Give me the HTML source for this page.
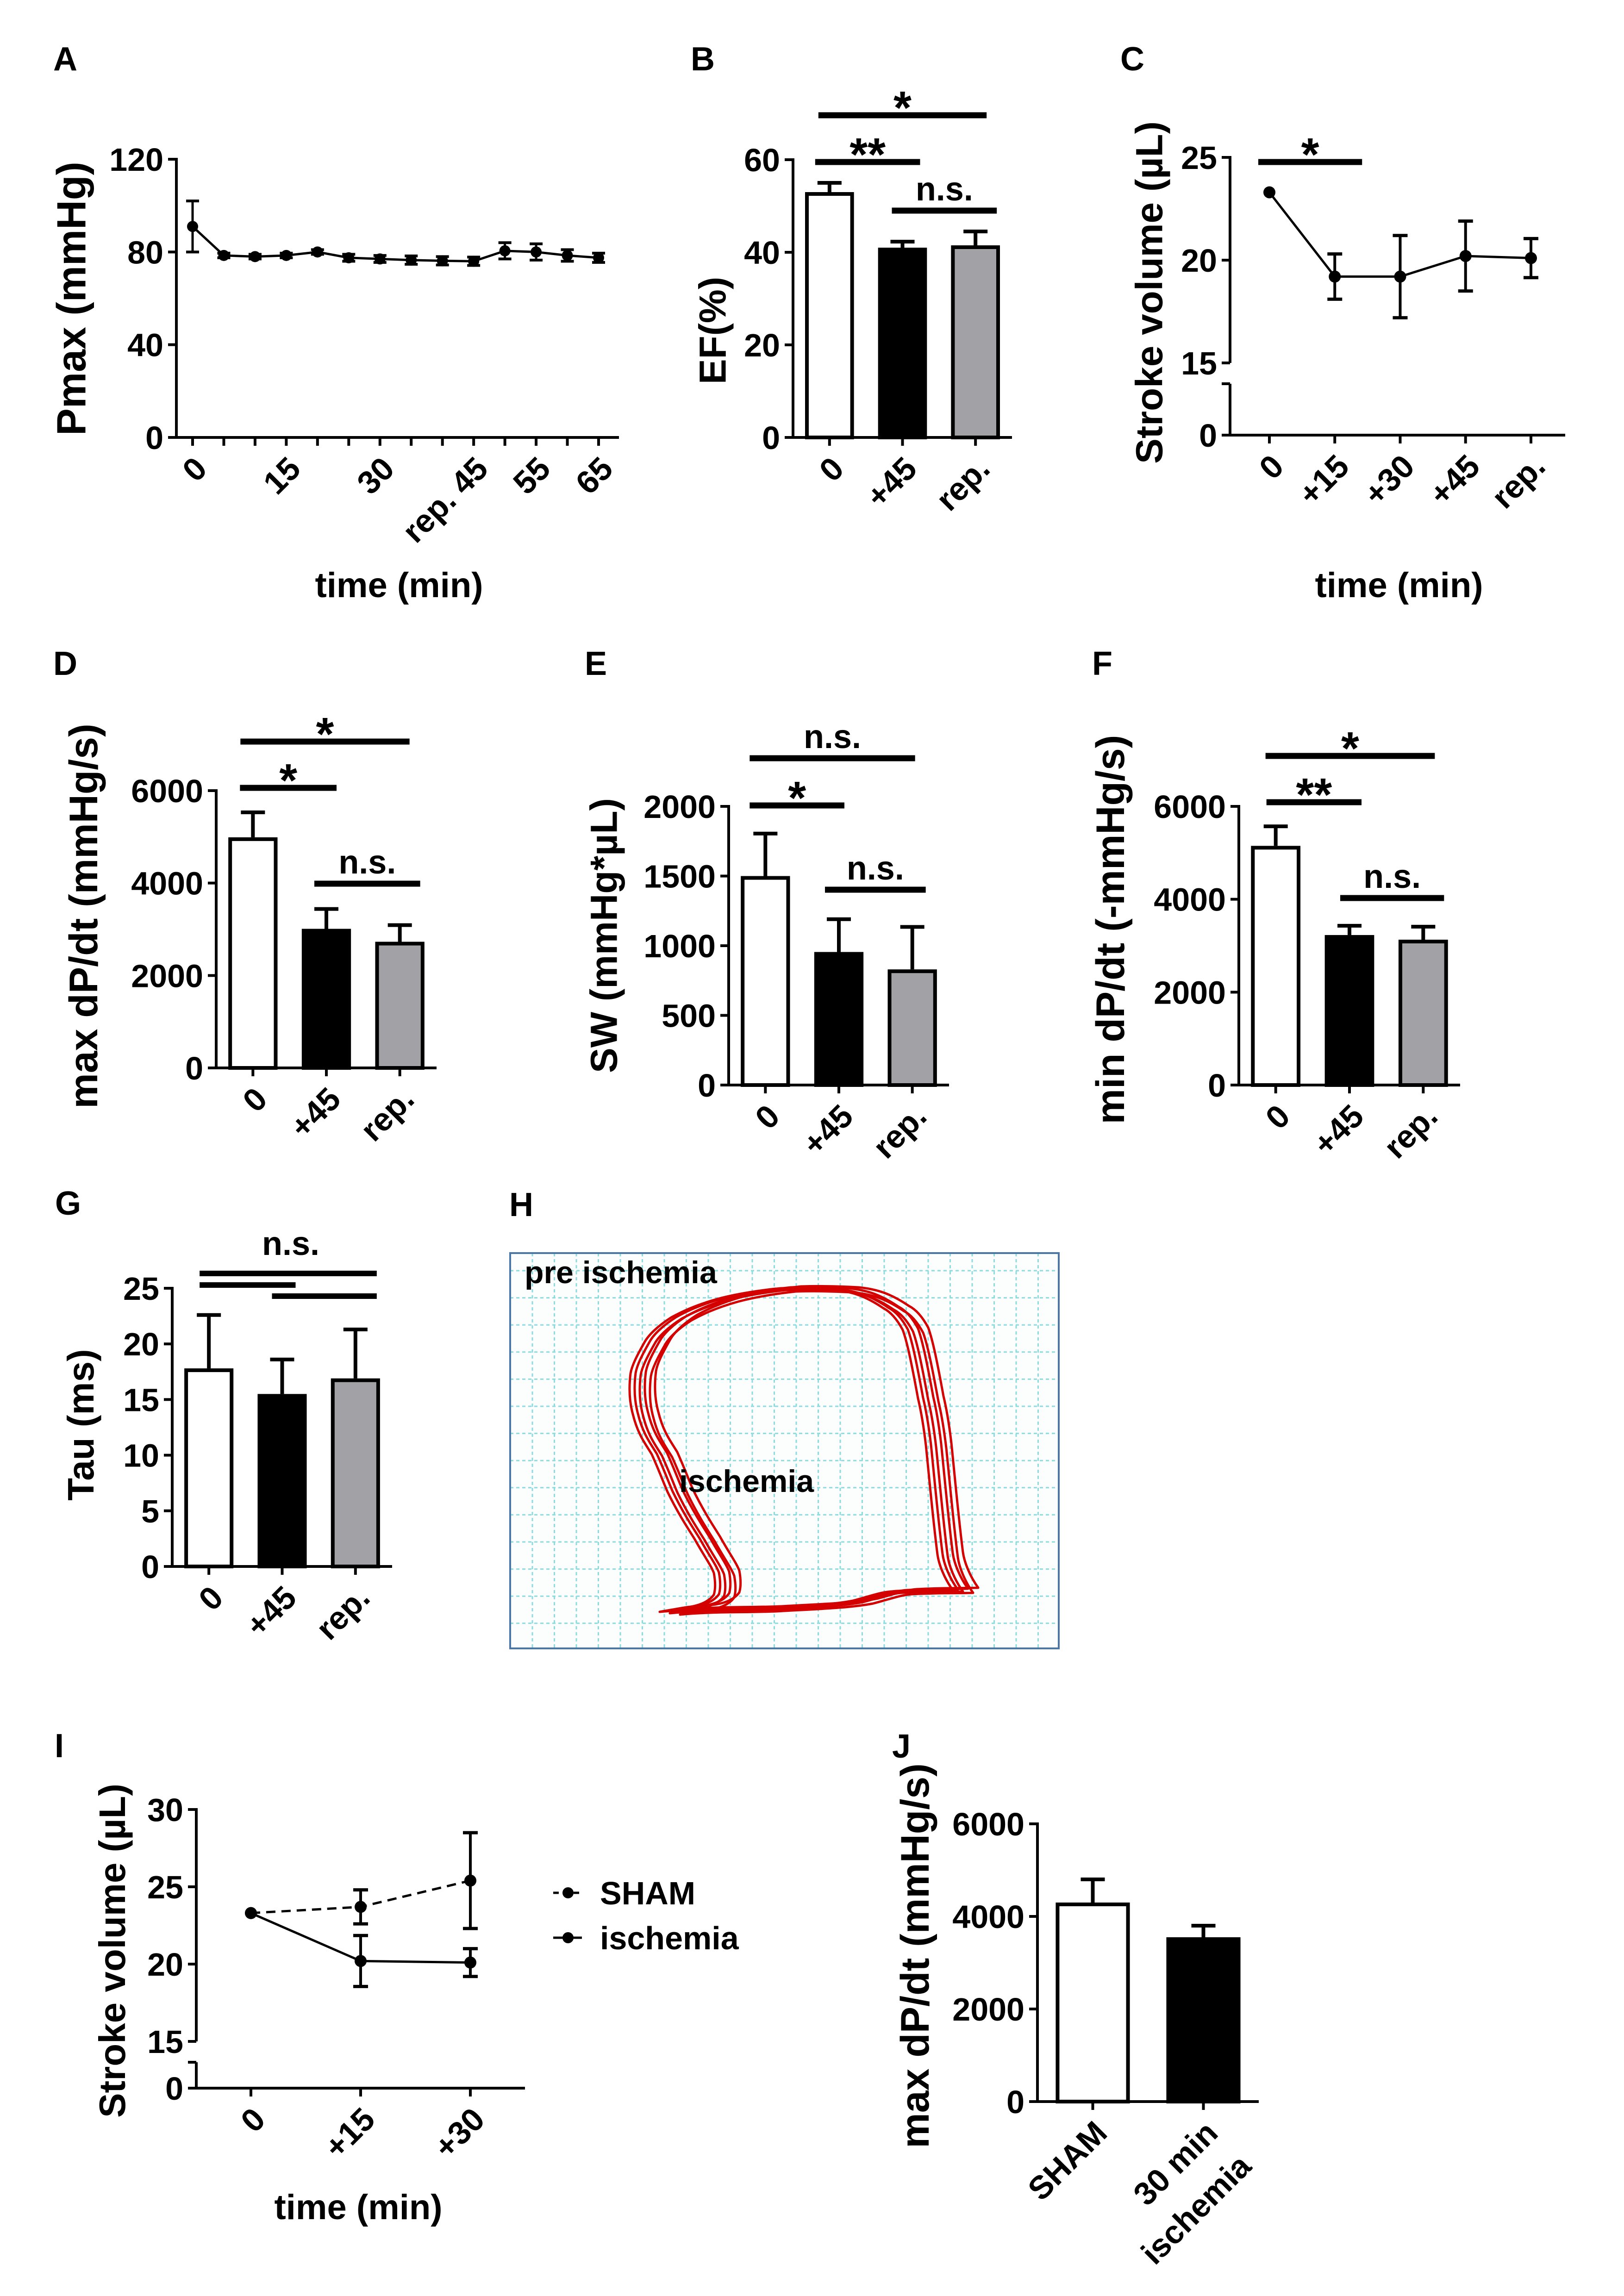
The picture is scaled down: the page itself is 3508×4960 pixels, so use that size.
<!DOCTYPE html>
<html>
<head>
<meta charset="utf-8">
<style>
  html,body{margin:0;padding:0;background:#fff;}
  svg{display:block;}
  text{font-family:"Liberation Sans",Arial,sans-serif;font-weight:bold;fill:#000;}
</style>
</head>
<body>
<svg id="fig" xmlns="http://www.w3.org/2000/svg" width="3508" height="4960" viewBox="0 0 3508 4960">
  <rect x="0" y="0" width="3508" height="4960" fill="#fff"/>
</svg>
<script>
// ===== Panel A data =====
const aMinutes = [0,5,10,15,20,25,30,35,40,45,50,55,60,65];
const aPmax = [91,78.5,78,78.5,80,77.5,77,76.5,76.2,76,80.5,80,78.5,77.5];
const aErr = [11,1,1,1,1,1.5,1.5,1.8,1.8,1.8,3.5,3.5,2.5,2];
const aTickMinutes = [0,15,30,45,55,65];
const aTickLabels = ['0','15','30','rep. 45','55','65'];
const aYTicks = [0,40,80,120];
// ===== Panel B data =====
const bCats = ['0','+45','rep.'];
const bVals = [53,41,41.5];
const bErrs = [2,1.3,3];
const bYTicks = [0,20,40,60];
// ===== Panel C data =====
const cCats = ['0','+15','+30','+45','rep.'];
const cVals = [23.3,19.2,19.2,20.2,20.1];
const cErrs = [0,1.1,2.0,1.7,0.95];
const cYTicks = [15,20,25];
// ===== Panel D data =====
const dCats = ['0','+45','rep.'];
const dVals = [4990,3010,2730];
const dErrs = [540,430,360];
const dYTicks = [0,2000,4000,6000];
// ===== Panel E data =====
const eCats = ['0','+45','rep.'];
const eVals = [1500,955,830];
const eErrs = [305,235,305];
const eYTicks = [0,500,1000,1500,2000];
// ===== Panel F data =====
const fCats = ['0','+45','rep.'];
const fVals = [5150,3230,3130];
const fErrs = [420,200,280];
const fYTicks = [0,2000,4000,6000];
// ===== Panel G data =====
const gCats = ['0','+45','rep.'];
const gVals = [17.8,15.5,16.9];
const gErrs = [4.8,3.1,4.4];
const gYTicks = [0,5,10,15,20,25];
// ===== Panel I data =====
const iCats = ['0','+15','+30'];
const iSham = [23.3,23.7,25.4];
const iShamErr = [0,1.1,3.1];
const iIsch = [23.3,20.2,20.1];
const iIschErr = [0,1.65,0.9];
const iYTicks = [15,20,25,30];
// ===== Panel J data =====
const jCats = [['SHAM'],['30 min','ischemia']];
const jVals = [4300,3550];
const jErrs = [500,250];
const jYTicks = [0,2000,4000,6000];

const NS = 'http://www.w3.org/2000/svg';
const svg = document.getElementById('fig');
function mk(tag, attrs, parent){
  const e = document.createElementNS(NS, tag);
  for (const k in attrs) e.setAttribute(k, attrs[k]);
  (parent || svg).appendChild(e);
  return e;
}
function group(name){
  const g = mk('g', {});
  
  
  return g;
}
function line(g, x1, y1, x2, y2, w, name, dash){
  const e = mk('line', {x1:x1, y1:y1, x2:x2, y2:y2, stroke:'#000', 'stroke-width':w}, g);
  if (dash) e.setAttribute('stroke-dasharray', dash);
  
  
  return e;
}
function text(g, x, y, s, size, anchor, rot, name){
  const e = mk('text', {x:x, y:y, 'font-size':size, 'text-anchor':anchor||'start'}, g);
  if (rot) e.setAttribute('transform', 'rotate(' + rot + ' ' + x + ' ' + y + ')');
  e.textContent = s;
  
  
  return e;
}
function circle(g, cx, cy, r, name){
  const e = mk('circle', {cx:cx, cy:cy, r:r, fill:'#000'}, g);
  
  
  return e;
}
function lin(v, v0, v1, p0, p1){ return p0 + (v - v0) * (p1 - p0) / (v1 - v0); }

const AXW = 6, TICK = 18, TFS = 70;

function panelLetter(ch, x, y){
  const g = group('panel-label-' + ch.toLowerCase());
  text(g, x, y, ch, 72, 'start', 0, 'panel-letter');
}
function yTitle(g, s, cx, cy, size){
  text(g, cx + size * 0.36, cy, s, size, 'middle', -90, 'y-axis-title');
}
function xCatLabel(g, tx, axisY, s){
  text(g, tx + 35, axisY + 72, s, TFS, 'end', -45, 'x-tick-label');
}
function sig(g, x1, x2, y, lbl){
  line(g, x1, y, x2, y, 13, 'significance-bar');
  if (lbl === 'n.s.') {
    text(g, (x1 + x2) / 2, y - 22, lbl, 72, 'middle', 0, 'significance-label');
  } else {
    text(g, (x1 + x2) / 2, y + 18, lbl, 100, 'middle', 0, 'significance-label');
  }
}

// Generic bar chart
function barPanel(name, L, cats, vals, errs, fills, yTicks, vmax, sigs){
  const g = group(name);
  const band = (L.xEnd - L.x0) / cats.length;
  const bw = band * 0.67;
  const ys = v => lin(v, 0, vmax, L.y0, L.yTop);
  line(g, L.x0, ys(vmax) - 3, L.x0, L.y0 + 3, AXW, 'y-axis');
  line(g, L.x0 - TICK, L.y0, L.xEnd, L.y0, AXW, 'x-axis');
  yTicks.forEach(t => {
    line(g, L.x0 - TICK, ys(t), L.x0, ys(t), AXW, 'y-tick');
    text(g, L.x0 - 28, ys(t) + 25, String(t), TFS, 'end', 0, 'y-tick-label');
  });
  const cx = i => L.x0 + band * (i + 0.5);
  cats.forEach((c, i) => {
    const x = cx(i);
    const top = ys(vals[i]);
    const eTop = ys(vals[i] + errs[i]);
    line(g, x, top, x, eTop, 8, 'error-bar');
    line(g, x - 26, eTop, x + 26, eTop, 8, 'error-cap');
    const r = mk('rect', {x:x - bw/2 + 4, y:top + 4, width:bw - 8, height:L.y0 - top - 4, fill:fills[i], stroke:'#000', 'stroke-width':8}, g);
    
    
    line(g, x, L.y0, x, L.y0 + TICK, AXW, 'x-tick');
    if (Array.isArray(c)) {
      c.forEach((part, k) => {
        text(g, x + 35 + k * 72, L.y0 + 72 + k * 72, part, TFS, 'end', -45, 'x-tick-label');
      });
    } else {
      xCatLabel(g, x, L.y0, c);
    }
  });
  (sigs || []).forEach(s => sig(g, cx(s[0]) + s[3], cx(s[1]) + s[4], s[2], s[5]));
  return g;
}

const FILLS = ['#ffffff', '#000000', '#a1a1a6'];

// ===== Panel A =====
(function(){
  panelLetter('A', 115, 152);
  const g = group('panel-a-pmax');
  const L = {x0:381, xEnd:1337, yTop:344, y0:945, xFirst:416, xLast:1293};
  const ys = v => lin(v, 0, 120, L.y0, L.yTop);
  const xs = m => lin(m, aMinutes[0], aMinutes[aMinutes.length-1], L.xFirst, L.xLast);
  line(g, L.x0, L.yTop - 3, L.x0, L.y0 + 3, AXW, 'y-axis');
  line(g, L.x0 - TICK, L.y0, L.xEnd, L.y0, AXW, 'x-axis');
  aYTicks.forEach(t => {
    line(g, L.x0 - TICK, ys(t), L.x0, ys(t), AXW, 'y-tick');
    text(g, L.x0 - 28, ys(t) + 25, String(t), TFS, 'end', 0, 'y-tick-label');
  });
  aMinutes.forEach(m => line(g, xs(m), L.y0, xs(m), L.y0 + TICK, AXW, 'x-tick'));
  aTickMinutes.forEach((m, i) => xCatLabel(g, xs(m), L.y0, aTickLabels[i]));
  const pts = aMinutes.map((m, i) => xs(m) + ',' + ys(aPmax[i])).join(' ');
  const pl = mk('polyline', {points:pts, fill:'none', stroke:'#000', 'stroke-width':5}, g);
  
  
  aMinutes.forEach((m, i) => {
    const x = xs(m);
    if (aErr[i] > 0) {
      line(g, x, ys(aPmax[i] - aErr[i]), x, ys(aPmax[i] + aErr[i]), 5, 'error-bar');
      line(g, x - 14, ys(aPmax[i] + aErr[i]), x + 14, ys(aPmax[i] + aErr[i]), 6, 'error-cap');
      line(g, x - 14, ys(aPmax[i] - aErr[i]), x + 14, ys(aPmax[i] - aErr[i]), 6, 'error-cap');
    }
    circle(g, x, ys(aPmax[i]), 12, 'data-point');
  });
  yTitle(g, 'Pmax (mmHg)', 153, 645, 88);
  text(g, 862, 1290, 'time (min)', 76, 'middle', 0, 'x-axis-title');
})();

// ===== Panel B =====
panelLetter('B', 1492, 152);
(function(){
  const g = barPanel('panel-b-ef', {x0:1713, xEnd:2186, yTop:345, y0:945}, bCats, bVals, bErrs, FILLS, bYTicks, 60,
    [[0,2,249,-24,24,'*'],[0,1,350,-31,38,'**'],[1,2,455,-23,46,'n.s.']]);
  yTitle(g, 'EF(%)', 1538, 714, 82);
})();

// ===== Panel C =====
panelLetter('C', 2420, 152);
(function(){
  const g = group('panel-c-stroke-volume');
  const L = {x0:2657, xEnd:3381, yTop:340, yBreak:784, yLowTop:829, y0:940, xFirst:2742, xLast:3307};
  const ys = v => lin(v, 15, 25, L.yBreak, L.yTop);
  const xs = i => lin(i, 0, cCats.length - 1, L.xFirst, L.xLast);
  line(g, L.x0, L.yTop - 3, L.x0, L.yBreak, AXW, 'y-axis-upper');
  line(g, L.x0, L.yLowTop, L.x0, L.y0 + 3, AXW, 'y-axis-lower');
  line(g, L.x0 - TICK, L.yLowTop, L.x0, L.yLowTop, AXW, 'y-axis-break-tick');
  line(g, L.x0 - TICK, L.y0, L.xEnd, L.y0, AXW, 'x-axis');
  cYTicks.forEach(t => {
    line(g, L.x0 - TICK, ys(t), L.x0, ys(t), AXW, 'y-tick');
    text(g, L.x0 - 28, ys(t) + 25, String(t), TFS, 'end', 0, 'y-tick-label');
  });
  text(g, L.x0 - 28, L.y0 + 25, '0', TFS, 'end', 0, 'y-tick-label');
  const pts = cCats.map((c, i) => xs(i) + ',' + ys(cVals[i])).join(' ');
  const pl = mk('polyline', {points:pts, fill:'none', stroke:'#000', 'stroke-width':5}, g);
  
  
  cCats.forEach((c, i) => {
    const x = xs(i);
    line(g, x, L.y0, x, L.y0 + TICK, AXW, 'x-tick');
    xCatLabel(g, x, L.y0, c);
    if (cErrs[i] > 0) {
      line(g, x, ys(cVals[i] - cErrs[i]), x, ys(cVals[i] + cErrs[i]), 6, 'error-bar');
      line(g, x - 16, ys(cVals[i] + cErrs[i]), x + 16, ys(cVals[i] + cErrs[i]), 7, 'error-cap');
      line(g, x - 16, ys(cVals[i] - cErrs[i]), x + 16, ys(cVals[i] - cErrs[i]), 7, 'error-cap');
    }
    circle(g, x, ys(cVals[i]), 13, 'data-point');
  });
  sig(g, xs(0) - 24, xs(1) + 59, 350, '*');
  yTitle(g, 'Stroke volume (µL)', 2481, 632, 82);
  text(g, 3022, 1290, 'time (min)', 76, 'middle', 0, 'x-axis-title');
})();

// ===== Panel D =====
panelLetter('D', 115, 1458);
(function(){
  const g = barPanel('panel-d-max-dpdt', {x0:467, xEnd:943, yTop:1708, y0:2307}, dCats, dVals, dErrs, FILLS, dYTicks, 6000,
    [[0,2,1602,-27,21,'*'],[0,1,1702,-28,22,'*'],[1,2,1909,-26,44,'n.s.']]);
  yTitle(g, 'max dP/dt (mmHg/s)', 179, 1979, 86);
})();

// ===== Panel E =====
panelLetter('E', 1263, 1458);
(function(){
  const g = barPanel('panel-e-sw', {x0:1574, xEnd:2050, yTop:1742, y0:2344}, eCats, eVals, eErrs, FILLS, eYTicks, 2000,
    [[0,2,1638,-34,6,'n.s.'],[0,1,1740,-34,12,'*'],[1,2,1922,-30,29,'n.s.']]);
  yTitle(g, 'SW (mmHg*µL)', 1303, 2021, 82);
})();

// ===== Panel F =====
panelLetter('F', 2359, 1458);
(function(){
  const g = barPanel('panel-f-min-dpdt', {x0:2676, xEnd:3154, yTop:1742, y0:2344}, fCats, fVals, fErrs, FILLS, fYTicks, 6000,
    [[0,2,1633,-22,25,'*'],[0,1,1733,-20,26,'**'],[1,2,1940,-20,45,'n.s.']]);
  yTitle(g, 'min dP/dt (-mmHg/s)', 2397, 2008, 86);
})();

// ===== Panel G =====
panelLetter('G', 119, 2624);
(function(){
  const g = barPanel('panel-g-tau', {x0:372, xEnd:847, yTop:2783, y0:3384}, gCats, gVals, gErrs, FILLS, gYTicks, 25, []);
  const band = (847 - 372) / 3;
  const cx = i => 372 + band * (i + 0.5);
  line(g, cx(0) - 20, 2751, cx(2) + 46, 2751, 12, 'significance-bar');
  line(g, cx(0) - 20, 2776, cx(1) + 29, 2776, 12, 'significance-bar');
  line(g, cx(1) - 22, 2800, cx(2) + 46, 2800, 12, 'significance-bar');
  text(g, 628, 2711, 'n.s.', 72, 'middle', 0, 'significance-label');
  yTitle(g, 'Tau (ms)', 173, 3078, 80);
})();

// ===== Panel H (PV loops image) =====
panelLetter('H', 1100, 2627);
(function(){
  const g = group('panel-h-pv-loops');
  const bx = 1102, by = 2707, bw = 1185, bh = 854;
  const bg = mk('rect', {x:bx, y:by, width:bw, height:bh, fill:'#fcfdfd'}, g);
  
  
  for (let x = 1150; x < bx + bw; x += 47.5) {
    const l = mk('line', {x1:x, y1:by, x2:x, y2:by + bh, stroke:'#8ddcdf', 'stroke-width':3, 'stroke-dasharray':'7 6'}, g);
    
    
  }
  for (let y = 2745; y < by + bh; y += 58.6) {
    const l = mk('line', {x1:bx, y1:y, x2:bx + bw, y2:y, stroke:'#8ddcdf', 'stroke-width':3, 'stroke-dasharray':'7 6'}, g);
    
    
  }
  const loop = 'M1425,3482 C1500,3475 1560,3478 1633,3475 C1720,3470 1790,3468 1842,3458 C1880,3448 1900,3440 1925,3438 C1980,3435 2020,3436 2058,3435 ' +
    'C2040,3410 2028,3380 2025,3358 C2015,3280 2008,3200 2000,3122 C1995,3080 1990,3050 1983,3021 C1970,2950 1960,2900 1950,2873 ' +
    'C1935,2845 1920,2832 1908,2826 C1870,2800 1840,2790 1800,2786 C1750,2783 1710,2783 1675,2784 C1620,2790 1580,2798 1550,2806 ' +
    'C1500,2820 1470,2835 1450,2846 C1420,2865 1400,2885 1392,2900 C1375,2930 1365,2950 1362,2967 C1358,3000 1360,3030 1367,3055 ' +
    'C1378,3100 1395,3120 1408,3142 C1425,3180 1432,3200 1442,3223 C1465,3270 1485,3300 1500,3324 C1520,3360 1535,3380 1542,3398 ' +
    'C1546,3420 1545,3435 1542,3445 C1530,3462 1505,3470 1483,3472 C1460,3476 1440,3479 1425,3482 Z';
  [0, 1, 2, 3, 4, 5].forEach(k => {
    const p = mk('path', {d:loop, fill:'none', stroke:'#d40000', 'stroke-width':5, 'stroke-linejoin':'round', transform:'translate(' + (k * 11) + ',' + (k % 2 === 0 ? k * 1.5 : -k) + ')'}, g);
    
    
  });
  const fr = mk('rect', {x:bx, y:by, width:bw, height:bh, fill:'none', stroke:'#4a76a8', 'stroke-width':4}, g);
  
  
  text(g, 1133, 2772, 'pre ischemia', 68, 'start', 0, 'pre-ischemia-label');
  text(g, 1467, 3223, 'ischemia', 68, 'start', 0, 'ischemia-label');
})();

// ===== Panel I =====
panelLetter('I', 118, 3796);
(function(){
  const g = group('panel-i-stroke-volume-sham');
  const L = {x0:424, xEnd:1134, yTop:3909, yBreak:4410, yLowTop:4455, y0:4511, xFirst:542, xLast:1016};
  const ys = v => lin(v, 15, 30, L.yBreak, L.yTop);
  const xs = i => lin(i, 0, iCats.length - 1, L.xFirst, L.xLast);
  line(g, L.x0, L.yTop - 3, L.x0, L.yBreak, AXW, 'y-axis-upper');
  line(g, L.x0, L.yLowTop, L.x0, L.y0 + 3, AXW, 'y-axis-lower');
  line(g, L.x0 - TICK, L.yLowTop, L.x0, L.yLowTop, AXW, 'y-axis-break-tick');
  line(g, L.x0 - TICK, L.y0, L.xEnd, L.y0, AXW, 'x-axis');
  iYTicks.forEach(t => {
    line(g, L.x0 - TICK, ys(t), L.x0, ys(t), AXW, 'y-tick');
    text(g, L.x0 - 28, ys(t) + 25, String(t), TFS, 'end', 0, 'y-tick-label');
  });
  text(g, L.x0 - 28, L.y0 + 25, '0', TFS, 'end', 0, 'y-tick-label');
  const series = [[iSham, iShamErr, '20 13', 'sham-line'], [iIsch, iIschErr, null, 'ischemia-line']];
  series.forEach(s => {
    const pts = iCats.map((c, i) => xs(i) + ',' + ys(s[0][i])).join(' ');
    const pl = mk('polyline', {points:pts, fill:'none', stroke:'#000', 'stroke-width':5}, g);
    if (s[2]) pl.setAttribute('stroke-dasharray', s[2]);
    
    
    iCats.forEach((c, i) => {
      const x = xs(i);
      if (s[1][i] > 0) {
        line(g, x, ys(s[0][i] - s[1][i]), x, ys(s[0][i] + s[1][i]), 6, 'error-bar');
        line(g, x - 16, ys(s[0][i] + s[1][i]), x + 16, ys(s[0][i] + s[1][i]), 7, 'error-cap');
        line(g, x - 16, ys(s[0][i] - s[1][i]), x + 16, ys(s[0][i] - s[1][i]), 7, 'error-cap');
      }
      circle(g, x, ys(s[0][i]), 13, 'data-point');
    });
  });
  iCats.forEach((c, i) => {
    line(g, xs(i), L.y0, xs(i), L.y0 + TICK, AXW, 'x-tick');
    xCatLabel(g, xs(i), L.y0, c);
  });
  const lg = group('legend');
  line(lg, 1195, 4089, 1257, 4089, 5, 'legend-sham-line', '12 10');
  circle(lg, 1227, 4089, 12, 'legend-sham-marker');
  text(lg, 1296, 4114, 'SHAM', 70, 'start', 0, 'legend-sham-label');
  line(lg, 1195, 4186, 1257, 4186, 5, 'legend-ischemia-line');
  circle(lg, 1227, 4186, 12, 'legend-ischemia-marker');
  text(lg, 1296, 4211, 'ischemia', 70, 'start', 0, 'legend-ischemia-label');
  yTitle(g, 'Stroke volume (µL)', 241, 4214, 80);
  text(g, 774, 4794, 'time (min)', 76, 'middle', 0, 'x-axis-title');
})();

// ===== Panel J =====
panelLetter('J', 1927, 3797);
(function(){
  const g = barPanel('panel-j-max-dpdt', {x0:2241, xEnd:2719, yTop:3940, y0:4540}, jCats, jVals, jErrs, FILLS, jYTicks, 6000, []);
  yTitle(g, 'max dP/dt (mmHg/s)', 1975, 4225, 86);
})();
</script>
</body>
</html>
